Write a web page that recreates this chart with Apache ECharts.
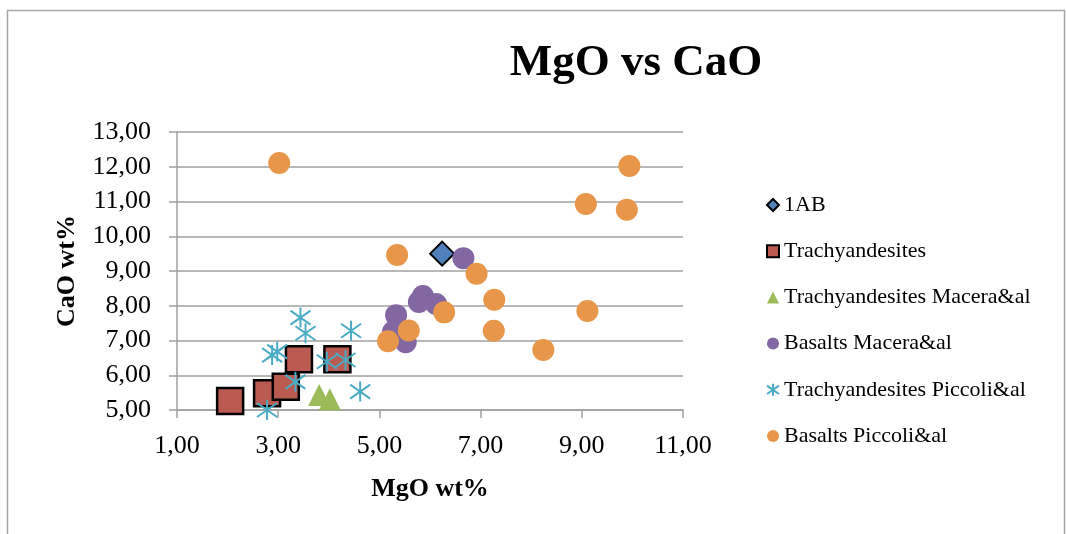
<!DOCTYPE html>
<html>
<head>
<meta charset="utf-8">
<script src="https://cdn.jsdelivr.net/npm/echarts@6/dist/echarts.min.js"></script>
<style>html,body{margin:0;padding:0;background:#fff;}#c{width:1066px;height:534px;}</style>
</head>
<body>
<div id="c"></div>
<script>
var titleText = 'MgO vs CaO';
var xName = 'MgO wt%';
var yName = 'CaO wt%';
var seriesNames = ['1AB', 'Trachyandesites', 'Trachyandesites Macera&al', 'Basalts Macera&al', 'Trachyandesites Piccoli&al', 'Basalts Piccoli&al'];

var data1AB = [[6.24, 9.50]];
var dataTrachy = [[2.05, 5.26], [2.78, 5.48], [3.15, 5.67], [3.41, 6.46], [4.17, 6.46]];
var dataTrachyMacera = [[3.81, 5.43], [4.02, 5.31]];
var dataBasaltMacera = [[6.66, 9.37], [5.86, 8.28], [5.78, 8.11], [6.12, 8.05], [5.33, 7.73], [5.27, 7.25], [5.52, 6.95]];
var dataTrachyPiccoli = [[3.44, 7.66], [3.54, 7.21], [4.44, 7.28], [2.88, 6.58], [2.98, 6.68], [3.96, 6.39], [4.33, 6.44], [3.34, 5.81], [4.62, 5.53], [2.78, 5.00]];
var dataBasaltPiccoli = [[3.02, 12.11], [9.94, 12.02], [9.08, 10.93], [9.89, 10.76], [5.35, 9.46], [6.92, 8.92], [7.27, 8.17], [9.11, 7.85], [6.28, 7.81], [7.26, 7.28], [5.58, 7.29], [5.17, 6.98], [8.24, 6.73]];

var xMin = 1, xMax = 11, xStep = 2;
var yMin = 5, yMax = 13, yStep = 1;

var serif = '"Liberation Serif", "DejaVu Serif", serif';
function fmt(v) { return v.toFixed(2).replace('.', ','); }
var starPath = 'path://M10,0 L10,20 M0,3 L20,17 M0,17 L20,3';

var chart = echarts.init(document.getElementById('c'));
chart.setOption({
  animation: false,
  backgroundColor: '#fff',
  graphic: [
    { type: 'rect', shape: { x: 7.5, y: 10.5, width: 1057, height: 540 }, style: { fill: 'none', stroke: '#A6A6A6', lineWidth: 1.5 }, silent: true },
    { type: 'text', x: 636, y: 63, style: { text: titleText, font: 'bold 45px ' + serif, fill: '#000', align: 'center', verticalAlign: 'middle' }, silent: true }
  ],
  grid: { left: 177, right: 383, top: 132, bottom: 124 },
  legend: {
    orient: 'vertical', left: 761, top: 189,
    itemWidth: 12, itemHeight: 12, itemGap: 24.2,
    textStyle: { fontFamily: serif, fontSize: 22, color: '#000', lineHeight: 22 },
    data: seriesNames
  },
  xAxis: {
    type: 'value', min: xMin, max: xMax, interval: xStep,
    name: xName, nameLocation: 'middle', nameGap: 66,
    nameTextStyle: { fontFamily: serif, fontSize: 26, fontWeight: 'bold', color: '#000' },
    axisLine: { show: true, lineStyle: { color: '#A0A0A0', width: 1.5 } },
    axisTick: { show: true, length: 8, lineStyle: { color: '#A0A0A0', width: 1.5 } },
    axisLabel: { formatter: fmt, fontFamily: serif, fontSize: 26, color: '#000', margin: 23 },
    splitLine: { show: false }
  },
  yAxis: {
    type: 'value', min: yMin, max: yMax, interval: yStep,
    name: yName, nameLocation: 'middle', nameGap: 97,
    nameTextStyle: { fontFamily: serif, fontSize: 26, fontWeight: 'bold', color: '#000' },
    axisLine: { show: true, lineStyle: { color: '#A0A0A0', width: 1.5 } },
    axisTick: { show: true, length: 8, lineStyle: { color: '#A0A0A0', width: 1.5 } },
    axisLabel: { formatter: fmt, fontFamily: serif, fontSize: 26, color: '#000', margin: 26 },
    splitLine: { show: true, lineStyle: { color: '#A0A0A0', width: 1.5 } }
  },
  series: [
    { name: seriesNames[0], type: 'scatter', data: data1AB, symbol: 'diamond', symbolSize: 24,
      itemStyle: { color: '#4F81BD', borderColor: '#000', borderWidth: 2, opacity: 1 } },
    { name: seriesNames[1], type: 'scatter', data: dataTrachy, symbol: 'rect', symbolSize: 26,
      itemStyle: { color: '#BB5A50', borderColor: '#000', borderWidth: 2.5, opacity: 1 } },
    { name: seriesNames[2], type: 'scatter', data: dataTrachyMacera, symbol: 'triangle', symbolSize: 22,
      itemStyle: { color: '#9BBB59', opacity: 1 } },
    { name: seriesNames[3], type: 'scatter', data: dataBasaltMacera, symbol: 'circle', symbolSize: 22,
      itemStyle: { color: '#8267A3', opacity: 1 } },
    { name: seriesNames[4], type: 'scatter', data: dataTrachyPiccoli, symbol: starPath, symbolSize: 20,
      itemStyle: { color: 'rgba(0,0,0,0)', borderColor: '#4BACC6', borderWidth: 2, opacity: 1 } },
    { name: seriesNames[5], type: 'scatter', data: dataBasaltPiccoli, symbol: 'circle', symbolSize: 22,
      itemStyle: { color: '#E8964A', opacity: 1 } }
  ]
});
</script>
</body>
</html>
